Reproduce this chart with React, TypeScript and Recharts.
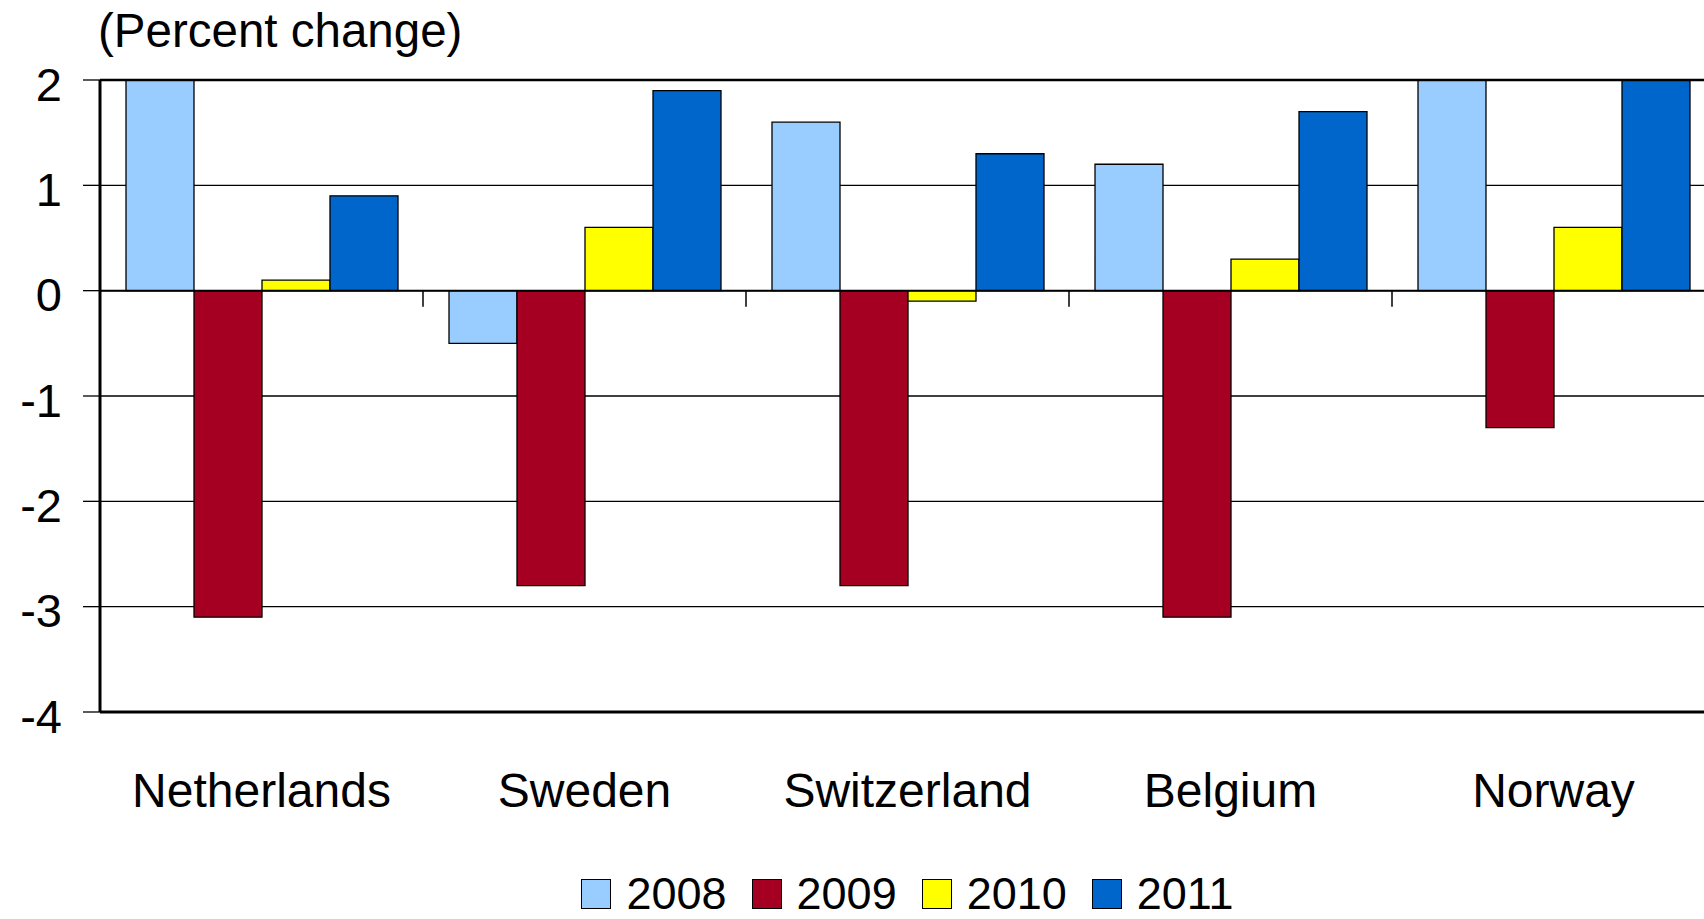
import React from 'react';
import { BarChart, Bar, XAxis, YAxis, CartesianGrid, Legend, ReferenceLine } from 'recharts';

const countries = ['Netherlands', 'Sweden', 'Switzerland', 'Belgium', 'Norway'];
const years = ['2008', '2009', '2010', '2011'];
const colors = ['#99CCFF', '#A50021', '#FFFF00', '#0066CC'];
const yTicks = [-4, -3, -2, -1, 0, 1, 2];

// percent change, values at or above 2 are cut by the frame
const v2008 = [2.0, -0.5, 1.6, 1.2, 2.0];
const v2009 = [-3.1, -2.8, -2.8, -3.1, -1.3];
const v2010 = [0.1, 0.6, -0.1, 0.3, 0.6];
const v2011 = [0.9, 1.9, 1.3, 1.7, 2.0];

const series = [v2008, v2009, v2010, v2011];

const data = countries.map((name, i) => {
  const row: Record<string, string | number> = { name };
  years.forEach((yr, k) => {
    row[yr] = series[k][i];
  });
  return row;
});

const FONT = '"Liberation Sans", Arial, sans-serif';

// zero line with the small category separators hanging below it
const ZeroLine = (props: any) => {
  const { x1, x2, y1 } = props;
  if (x1 == null || x2 == null || y1 == null) return null;
  const step = (x2 - x1) / countries.length;
  return (
    <g>
      <line x1={x1} x2={x2} y1={y1} y2={y1} stroke="#000" strokeWidth={2} />
      {countries.slice(1).map((_, i) => (
        <line
          key={i}
          x1={x1 + step * (i + 1)}
          x2={x1 + step * (i + 1)}
          y1={y1}
          y2={y1 + 16}
          stroke="#000"
          strokeWidth={1.5}
        />
      ))}
    </g>
  );
};

const renderLegend = () => (
  <div
    style={{
      display: 'flex',
      justifyContent: 'center',
      alignItems: 'center',
      height: 50,
      fontSize: 45,
      lineHeight: '50px',
      fontFamily: FONT,
      color: '#000',
    }}
  >
    {years.map((yr, i) => (
      <div key={yr} style={{ display: 'flex', alignItems: 'center', marginLeft: i ? 25 : 0 }}>
        <span
          style={{
            display: 'inline-block',
            width: 28,
            height: 28,
            background: colors[i],
            border: '1px solid #000',
            marginRight: 15,
          }}
        />
        {yr}
      </div>
    ))}
  </div>
);

export default function App() {
  return (
    <div
      style={{
        position: 'absolute',
        left: 0,
        top: 0,
        width: 1704,
        height: 919,
        overflow: 'hidden',
        background: '#fff',
        fontFamily: FONT,
      }}
    >
      <div
        style={{
          position: 'absolute',
          left: 98,
          top: 7,
          fontSize: 47.5,
          lineHeight: '47px',
          color: '#000',
          whiteSpace: 'nowrap',
        }}
      >
        (Percent change)
      </div>
      <BarChart
        width={1720}
        height={919}
        data={data}
        margin={{ top: 80, right: 5, left: 0, bottom: 0 }}
        barCategoryGap={26}
        barGap={0}
        style={{ fontFamily: FONT }}
      >
        <CartesianGrid horizontal vertical={false} stroke="#000" strokeWidth={1.3} />
        <XAxis
          dataKey="name"
          height={157}
          tickLine={false}
          tickSize={0}
          tickMargin={61}
          axisLine={{ stroke: '#000', strokeWidth: 3 }}
          tick={{ fontSize: 48, fill: '#000' }}
          interval={0}
        />
        <YAxis
          width={100}
          domain={[-4, 2]}
          ticks={yTicks}
          allowDataOverflow
          tickSize={17}
          tickMargin={21}
          tickLine={{ stroke: '#000', strokeWidth: 1.3 }}
          axisLine={{ stroke: '#000', strokeWidth: 3 }}
          tick={{ fontSize: 47, fill: '#000', dy: 4 }}
        />
        <Legend
          verticalAlign="bottom"
          content={renderLegend}
          wrapperStyle={{ left: 100, width: 1615 }}
        />
        {years.map((yr, i) => (
          <Bar
            key={yr}
            dataKey={yr}
            fill={colors[i]}
            stroke="#000"
            strokeWidth={1.3}
            isAnimationActive={false}
          />
        ))}
        <ReferenceLine y={2} stroke="#000" strokeWidth={2.5} />
        <ReferenceLine y={0} shape={ZeroLine} />
      </BarChart>
    </div>
  );
}
